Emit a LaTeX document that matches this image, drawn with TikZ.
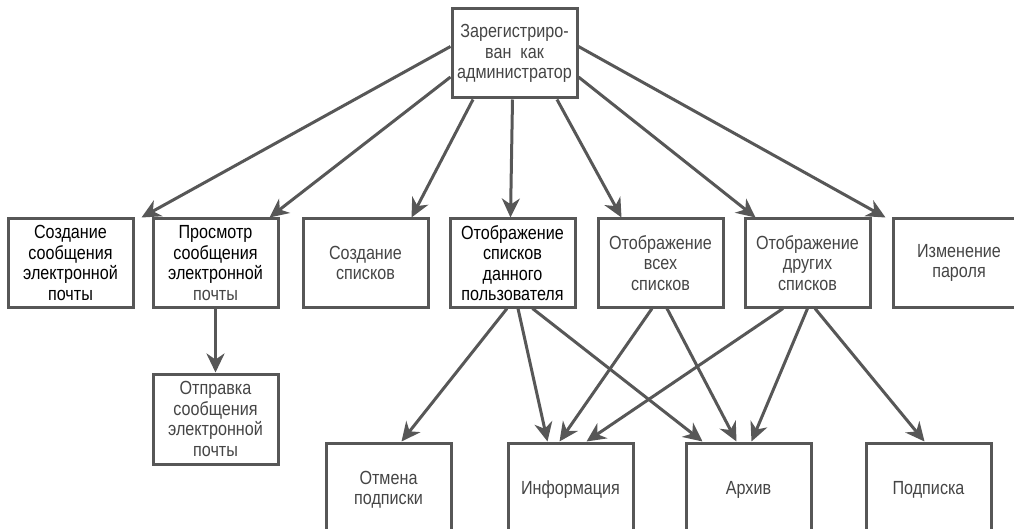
\documentclass[tikz,border=0pt]{standalone}
\usepackage{fontspec}
\setmainfont{Liberation Sans}[FakeStretch=0.85]
\usetikzlibrary{arrows.meta,positioning}
\definecolor{inkgray}{gray}{0.34}
\definecolor{textgray}{gray}{0.27}

\begin{document}
\begin{tikzpicture}[
  x=1pt, y=1pt,
  font=\fontsize{19}{20.5}\selectfont,
  box/.style={draw=inkgray, line width=3pt, align=center, minimum width=125pt, minimum height=88pt, inner sep=2pt, text=textgray},
  dark/.style={text=black},
  link/.style={draw=inkgray, line width=3pt, ->},
  >={Stealth[length=19pt, width=18pt, inset=6pt]}
]
\useasboundingbox (0,0) rectangle (1014,-529);
\clip (0,0) rectangle (1014,-529);
% top
\node[box, minimum height=89pt] (admin) at (514.5,-53.5) {Зарегистриро-\\ван\ \ как\\администратор};
% second row
\node[box, dark] (newmsg) at (70.5,-263) {Создание\\сообщения\\электронной\\почты};
\node[box, dark, right=17pt of newmsg] (viewmsg) {Просмотр\\сообщения\\электронной\\{\color{textgray}почты}};
\node[box, right=22pt of viewmsg] (newlist) {Создание\\списков};
\node[box, dark, right=19pt of newlist] (mylists) {Отображение\\списков\\данного\\пользователя};
\node[box, right=20pt of mylists] (alllists) {Отображение\\всех\\списков};
\node[box, right=19pt of alllists] (otherlists) {Отображение\\других\\списков};
\node[box, minimum width=132pt, right=20pt of otherlists] (passwd) {Изменение\\пароля};
% lower rows
\node[box, minimum height=90pt, below=64pt of viewmsg] (sendmsg) {Отправка\\сообщения\\электронной\\почты};
\node[box, minimum height=94pt] (unsub) at (388.5,-490) {Отмена\\подписки};
\node[box, minimum height=94pt, right=54pt of unsub] (info) {Информация};
\node[box, minimum height=94pt, right=50pt of info] (archive) {Архив};
\node[box, minimum height=94pt, right=52pt of archive] (subscr) {Подписка};
% from the administrator
\draw[link] ([yshift=7pt]admin.west) -- ([xshift=7pt]newmsg.north east);
\draw[link] ([yshift=-23.5pt]admin.west) -- ([xshift=-10pt]viewmsg.north east);
\draw[link] ([xshift=-41.5pt]admin.south) -- ([xshift=-18pt]newlist.north east);
\draw[link] ([xshift=-2pt]admin.south) -- ([xshift=-2pt]mylists.north);
\draw[link] ([xshift=42.5pt]admin.south) -- ([xshift=25pt]alllists.north west);
\draw[link] ([yshift=-23.5pt]admin.east) -- ([xshift=12pt]otherlists.north west);
\draw[link] ([yshift=7pt]admin.east) -- ([xshift=-6pt]passwd.north west);
\draw[link] (viewmsg) -- (sendmsg);
% list views
\draw[link] ([xshift=-5.5pt]mylists.south) -- ([xshift=13pt]unsub.north);
\draw[link] ([xshift=5.5pt]mylists.south) -- ([xshift=41pt]info.north west);
\draw[link] ([xshift=20pt]mylists.south) -- ([xshift=18pt]archive.north west);
\draw[link] ([xshift=-8.5pt]alllists.south) -- ([xshift=53pt]info.north west);
\draw[link] ([xshift=6.5pt]alllists.south) -- ([xshift=52pt]archive.north west);
\draw[link] ([xshift=-24.5pt]otherlists.south) -- ([xshift=80pt]info.north west);
\draw[link] (otherlists.south) -- ([xshift=67pt]archive.north west);
\draw[link] ([xshift=7.5pt]otherlists.south) -- ([xshift=-4pt]subscr.north);
\end{tikzpicture}
\end{document}
